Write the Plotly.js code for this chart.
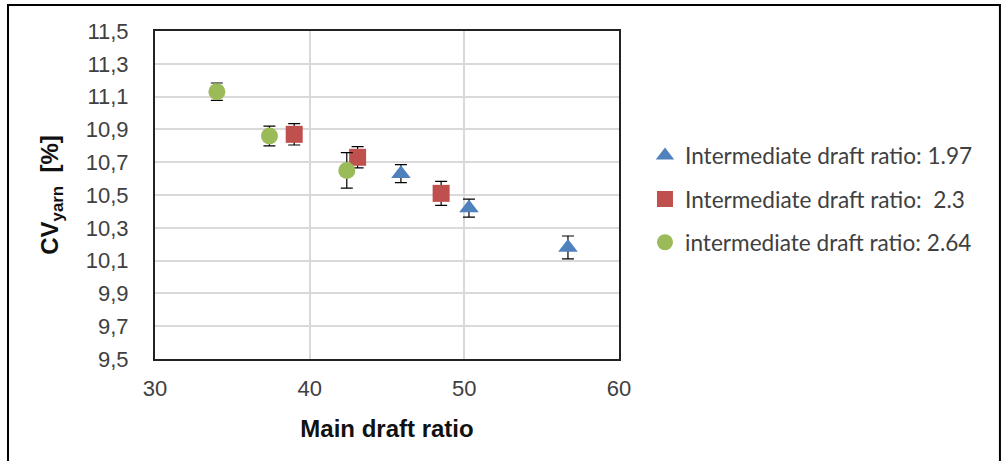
<!DOCTYPE html>
<html>
<head>
<meta charset="utf-8">
<script src="https://cdn.plot.ly/plotly-3.0.1.min.js"></script>
<style>
  html, body { margin: 0; padding: 0; background: #fff; }
  #chart { width: 1008px; height: 461px; }
</style>
</head>
<body>
<div id="chart"></div>
<script>
// Main draft ratio vs. yarn CV for three intermediate draft ratios
const seriesNames = [
  'Intermediate draft ratio: 1.97',
  'Intermediate draft ratio:  2.3',
  'intermediate draft ratio: 2.64'
];

const draft197X = [45.9, 50.3, 56.7];
const draft197Y = [10.63, 10.42, 10.18];
const draft197Err = [0.055, 0.055, 0.07];

const draft23X = [39.0, 43.1, 48.5];
const draft23Y = [10.87, 10.73, 10.51];
const draft23Err = [0.065, 0.065, 0.073];

const draft264X = [34.0, 37.4, 42.4];
const draft264Y = [11.13, 10.86, 10.65];
const draft264Err = [0.053, 0.06, 0.108];

const yTicks = [9.5, 9.7, 9.9, 10.1, 10.3, 10.5, 10.7, 10.9, 11.1, 11.3, 11.5];
const xTicks = [30, 40, 50, 60];

const colors = ['#4f81bd', '#c0504d', '#9bbb59'];
const symbols = ['triangle-up', 'square', 'circle'];

function makeTrace(i, xs, ys, errs) {
  return {
    type: 'scatter',
    mode: 'markers',
    name: seriesNames[i],
    legendgroup: 'g' + i,
    x: xs,
    y: ys,
    marker: { symbol: symbols[i], color: colors[i], size: 17, line: { width: 0 } },
    error_y: { type: 'data', array: errs, visible: true, color: '#000', thickness: 1.2, width: 6 }
  };
}

const data = [
  makeTrace(0, draft197X, draft197Y, draft197Err),
  makeTrace(1, draft23X, draft23Y, draft23Err),
  makeTrace(2, draft264X, draft264Y, draft264Err)
];

const sansFamily = "'Liberation Sans', Arial, sans-serif";
const axisFont = { family: sansFamily, size: 22, color: '#404040' };
const titleFont = { family: sansFamily, size: 24, color: '#111' };

const layout = {
  width: 1008,
  height: 461,
  margin: { l: 155, r: 389, t: 31, b: 102 },
  paper_bgcolor: '#fff',
  plot_bgcolor: '#fff',
  separators: ', ',
  showlegend: true,
  legend: {
    x: 1.056, y: 0.685, xanchor: 'left', yanchor: 'top',
    traceorder: 'grouped',
    tracegroupgap: 11,
    itemwidth: 30,
    font: { family: 'Lato, Carlito, Calibri, sans-serif', size: 22.6, color: '#404040' }
  },
  xaxis: {
    range: [30, 60],
    tickvals: xTicks,
    ticktext: xTicks.map(String),
    showgrid: true,
    gridcolor: '#d9d9d9',
    gridwidth: 2,
    zeroline: false,
    showline: true,
    linecolor: '#222',
    linewidth: 2,
    mirror: true,
    ticks: '',
    ticklabelstandoff: 9,
    tickfont: axisFont,
    title: { text: '<b>Main draft ratio</b>', font: titleFont, standoff: 20 }
  },
  yaxis: {
    range: [9.5, 11.5],
    tickvals: yTicks,
    ticktext: yTicks.map(v => v.toFixed(1).replace('.', ',')),
    showgrid: true,
    gridcolor: '#d9d9d9',
    gridwidth: 2,
    zeroline: false,
    showline: true,
    linecolor: '#222',
    linewidth: 2,
    mirror: true,
    ticks: '',
    ticklabelstandoff: 20,
    tickfont: axisFont,
    title: { text: '<b>CV<sub>yarn</sub>&nbsp; [%]</b>', font: titleFont, standoff: 20 }
  },
  shapes: [{
    type: 'rect', xref: 'paper', yref: 'paper',
    x0: -0.3168, x1: 1.821, y0: -0.35, y1: 1.079,
    line: { color: '#000', width: 2 }, fillcolor: 'rgba(0,0,0,0)', layer: 'above'
  }]
};

Plotly.newPlot('chart', data, layout, { displayModeBar: false, staticPlot: true });
</script>
</body>
</html>
